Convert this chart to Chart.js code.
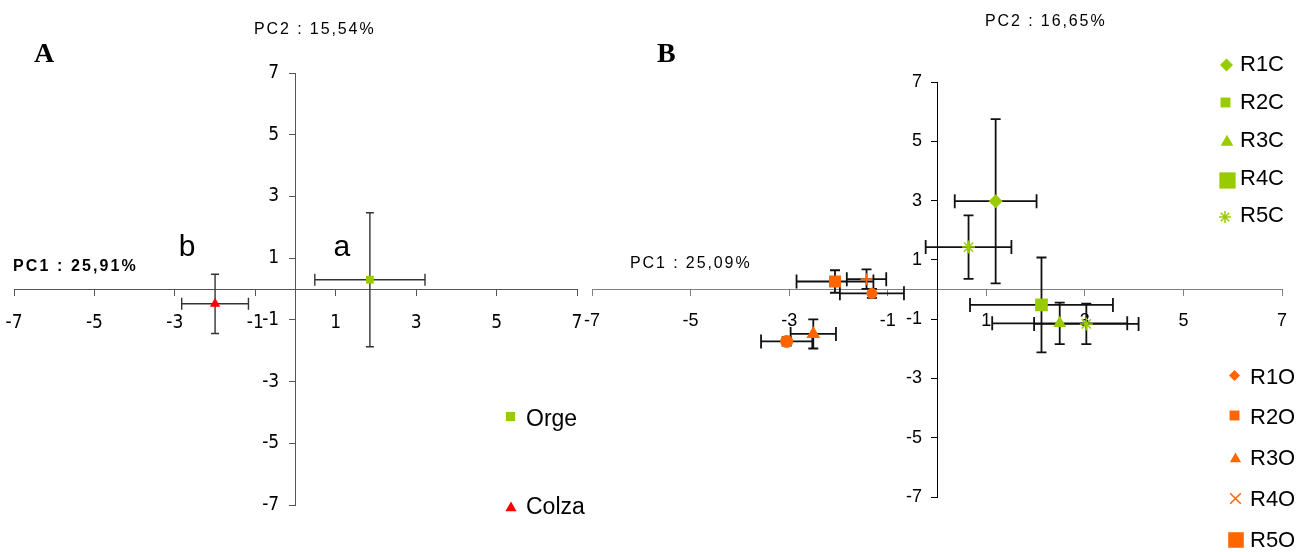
<!DOCTYPE html>
<html><head><meta charset="utf-8">
<script src="https://cdn.jsdelivr.net/npm/chart.js@4"></script>
<style>
html,body{margin:0;padding:0;background:#fff;}
#wrap{position:relative;width:1314px;height:552px;overflow:hidden;background:#fff;}
canvas{position:absolute;left:0;top:0;}
</style></head><body>
<div id="wrap"><canvas id="cA" width="1314" height="552"></canvas><canvas id="cB" width="1314" height="552"></canvas></div>
<script>
// ---------- DATA ----------
const axisTicks = [-7, -5, -3, -1, 1, 3, 5, 7];

// Panel A
const seriesA = ['Orge', 'Colza'];
const pc1A = [1.85, -2.0];
const pc2A = [0.30, -0.48];
const errPc1A = [1.37, 0.83];
const errPc2A = [2.17, 0.96];
const groupA = ['a', 'b'];

// Panel B
const seriesB = ['R1C', 'R2C', 'R3C', 'R4C', 'R5C', 'R1O', 'R2O', 'R3O', 'R4O', 'R5O'];
const pc1B = [1.19, 3.03, 2.49, 2.12, 0.64, -1.32, -3.05, -2.51, -1.43, -2.07];
const pc2B = [2.98, -1.16, -1.14, -0.52, 1.43, -0.13, -1.75, -1.50, 0.35, 0.27];
const errPc1B = [0.83, 1.06, 1.37, 1.45, 0.87, 0.65, 0.52, 0.46, 0.40, 0.78];
const errPc2B = [2.77, 0.68, 0.70, 1.60, 1.07, 0.15, 0.14, 0.49, 0.33, 0.38];

// ---------- STYLE ----------
const GREEN = '#99CC00', ORANGE = '#FF6600', RED = '#FF0000';

function drawMarker(ctx, style, r, x, y, bw) {
  if (Chart.helpers && Chart.helpers.drawPoint) {
    Chart.helpers.drawPoint(ctx, {pointStyle: style, radius: r, rotation: 0, borderWidth: bw || 0}, x, y);
  }
}

const errorBars = {
  id: 'errorBars',
  beforeDatasetsDraw(chart, args, o) {
    const {ctx} = chart, x = chart.scales.x, y = chart.scales.y;
    ctx.save();
    ctx.strokeStyle = o.color; ctx.lineWidth = o.width;
    chart.data.datasets.forEach(ds => {
      ds.data.forEach((p, i) => {
        const ex = ds.errX[i], ey = ds.errY[i];
        const px = x.getPixelForValue(p.x), py = y.getPixelForValue(p.y);
        const x1 = x.getPixelForValue(p.x - ex), x2 = x.getPixelForValue(p.x + ex);
        const y1 = y.getPixelForValue(p.y + ey), y2 = y.getPixelForValue(p.y - ey);
        const cx = o.capX, cy = o.capY;
        ctx.beginPath();
        ctx.moveTo(x1, py); ctx.lineTo(x2, py);
        ctx.moveTo(x1, py - cy); ctx.lineTo(x1, py + cy);
        ctx.moveTo(x2, py - cy); ctx.lineTo(x2, py + cy);
        ctx.moveTo(px, y1); ctx.lineTo(px, y2);
        ctx.moveTo(px - cx, y1); ctx.lineTo(px + cx, y1);
        ctx.moveTo(px - cx, y2); ctx.lineTo(px + cx, y2);
        ctx.stroke();
      });
    });
    ctx.restore();
  }
};

const customLegend = {
  id: 'customLegend',
  afterDraw(chart, args, o) {
    const ctx = chart.ctx;
    o.items.forEach(it => {
      const ds = chart.data.datasets[it.index];
      ctx.save();
      ctx.fillStyle = ds.pointBackgroundColor; ctx.strokeStyle = ds.pointBorderColor;
      ctx.lineWidth = it.bw || 0;
      drawMarker(ctx, it.style, it.r, it.mx, it.my, it.bw);
      ctx.restore();
      ctx.save();
      ctx.fillStyle = '#000'; ctx.font = o.font; ctx.textBaseline = 'alphabetic'; ctx.textAlign = 'left';
      ctx.fillText(ds.label, it.tx, it.ty);
      ctx.restore();
    });
  }
};

const panelText = {
  id: 'panelText',
  afterDraw(chart, args, o) {
    const ctx = chart.ctx;
    o.items.forEach(t => {
      ctx.save();
      ctx.font = t.font; ctx.fillStyle = '#000'; ctx.textBaseline = 'alphabetic';
      ctx.textAlign = t.align || 'left';
      if ('letterSpacing' in ctx) ctx.letterSpacing = t.ls || '0px';
      ctx.fillText(t.text, t.x, t.y);
      ctx.restore();
    });
  }
};

const groupLetters = {
  id: 'groupLetters',
  afterDraw(chart, args, o) {
    const ctx = chart.ctx, x = chart.scales.x, y = chart.scales.y;
    ctx.save();
    ctx.font = o.font; ctx.fillStyle = '#000'; ctx.textAlign = 'center'; ctx.textBaseline = 'alphabetic';
    o.labels.forEach((lab, i) => {
      ctx.fillText(lab, x.getPixelForValue(o.xs[i]) - 28, y.getPixelForValue(1.07));
    });
    ctx.restore();
  }
};

function scaleCfg(axis, family, size, pad, borderColor, tickColor) {
  return {
    type: 'linear', min: -7, max: 7,
    position: axis === 'x' ? {y: 0} : {x: 0},
    afterBuildTicks: s => { s.ticks = axisTicks.map(v => ({value: v})); },
    afterFit: s => {
      if (axis === 'x') s.height = 0; else s.width = 0;
      s.paddingLeft = 0; s.paddingRight = 0; s.paddingTop = 0; s.paddingBottom = 0;
    },
    border: {display: true, color: borderColor, width: 1},
    grid: {display: true, drawOnChartArea: false, drawTicks: true, tickLength: 6, color: tickColor, lineWidth: 1},
    ticks: {font: {family: family, size: size}, color: '#000', padding: pad, autoSkip: false, maxRotation: 0,
            callback: v => axis === 'y' ? v + '   ' : String(v)}
  };
}

function ds(label, x, y, ex, ey, style, r, color, bw) {
  return {label, data: [{x, y}], errX: [ex], errY: [ey], pointStyle: style, pointRadius: r, pointHoverRadius: r,
    pointBackgroundColor: color, pointBorderColor: color, pointBorderWidth: bw || 0, showLine: false};
}

Chart.defaults.animation = false;

// ---------- PANEL A ----------
const plotStyleA = [['rect', 5.5, GREEN, 0], ['triangle', 6, RED, 0]];
const dsA = seriesA.map((s, i) => ds(s, pc1A[i], pc2A[i], errPc1A[i], errPc2A[i], ...plotStyleA[i]));
const narrow = '"Liberation Sans Narrow", "DejaVu Sans Condensed", "Liberation Sans", Arial, sans-serif';
new Chart(document.getElementById('cA'), {
  type: 'scatter',
  data: {datasets: dsA},
  options: {
    responsive: false, animation: false, devicePixelRatio: 1,
    layout: {padding: {left: 14, right: 1314 - 577, top: 73, bottom: 552 - 505}},
    scales: {x: scaleCfg('x', narrow, 19, 17, '#555', '#555'), y: scaleCfg('y', narrow, 19, 0, '#555', '#555')},
    plugins: {
      legend: {display: false}, tooltip: {enabled: false},
      errorBars: {color: '#333', width: 1.4, capX: 4, capY: 6},
      customLegend: {font: '23px "Liberation Sans", Arial, sans-serif', items: [
        {index: 0, style: 'rect', r: 6.5, mx: 510.5, my: 416.5, tx: 526, ty: 426},
        {index: 1, style: 'triangle', r: 6.5, mx: 511, my: 508, tx: 526, ty: 514}
      ]},
      panelText: {items: [
        {text: 'A', x: 34, y: 62, font: 'bold 28px "Liberation Serif", "Times New Roman", serif'},
        {text: 'PC2 : 15,54%', x: 254, y: 34, font: '16px "Liberation Sans", Arial, sans-serif', ls: '1.9px'},
        {text: 'PC1 : 25,91%', x: 13, y: 271, font: 'bold 16px "Liberation Sans", Arial, sans-serif', ls: '2.1px'}
      ]},
      groupLetters: {font: '30px "Liberation Sans", Arial, sans-serif', labels: groupA, xs: pc1A}
    }
  },
  plugins: [errorBars, customLegend, panelText, groupLetters]
});

// ---------- PANEL B ----------
const plotStyleB = [
  ['rectRot', 7, GREEN, 0], ['star', 6.5, GREEN, 1.5], ['triangle', 7.5, GREEN, 0], ['rect', 9, GREEN, 0], ['star', 6.5, GREEN, 1.5],
  ['circle', 5.5, ORANGE, 0], ['circle', 6.5, ORANGE, 0], ['triangle', 8, ORANGE, 0], ['cross', 6, ORANGE, 2], ['rect', 8.5, ORANGE, 0]
];
const dsB = seriesB.map((s, i) => ds(s, pc1B[i], pc2B[i], errPc1B[i], errPc2B[i], ...plotStyleB[i]));
const legendB = [
  {index: 0, style: 'rectRot', r: 6.5, mx: 1226.5, my: 65, tx: 1240, ty: 71},
  {index: 1, style: 'rect', r: 7, mx: 1225.5, my: 102.5, tx: 1240, ty: 109},
  {index: 2, style: 'triangle', r: 7.3, mx: 1227, my: 142, tx: 1240, ty: 147},
  {index: 3, style: 'rect', r: 11.5, mx: 1227.5, my: 180.5, tx: 1240, ty: 185},
  {index: 4, style: 'star', r: 6, mx: 1225, my: 217, tx: 1240, ty: 222, bw: 1.5},
  {index: 5, style: 'rectRot', r: 5.5, mx: 1234.5, my: 375.5, tx: 1250, ty: 384},
  {index: 6, style: 'rect', r: 7, mx: 1234.5, my: 415.5, tx: 1250, ty: 424},
  {index: 7, style: 'triangle', r: 6.5, mx: 1235.5, my: 459, tx: 1250, ty: 465},
  {index: 8, style: 'crossRot', r: 7.5, mx: 1235.5, my: 498.5, tx: 1250, ty: 506, bw: 1.5},
  {index: 9, style: 'rect', r: 11, mx: 1236, my: 540, tx: 1250, ty: 547}
];
const sans = '"Liberation Sans", Arial, sans-serif';
new Chart(document.getElementById('cB'), {
  type: 'scatter',
  data: {datasets: dsB},
  options: {
    responsive: false, animation: false, devicePixelRatio: 1,
    layout: {padding: {left: 592, right: 1314 - 1282, top: 82, bottom: 552 - 497}},
    scales: {x: scaleCfg('x', sans, 18, 15, '#808080', '#808080'), y: scaleCfg('y', sans, 18, 0, '#000', '#000')},
    plugins: {
      legend: {display: false}, tooltip: {enabled: false},
      errorBars: {color: '#111', width: 1.8, capX: 5, capY: 7},
      customLegend: {font: '22px "Liberation Sans", Arial, sans-serif', items: legendB},
      panelText: {items: [
        {text: 'B', x: 657, y: 62, font: 'bold 28px "Liberation Serif", "Times New Roman", serif'},
        {text: 'PC2 : 16,65%', x: 985, y: 26, font: '16px "Liberation Sans", Arial, sans-serif', ls: '1.9px'},
        {text: 'PC1 : 25,09%', x: 630, y: 268, font: '16px "Liberation Sans", Arial, sans-serif', ls: '1.9px'}
      ]}
    }
  },
  plugins: [errorBars, customLegend, panelText]
});
</script>
</body></html>
